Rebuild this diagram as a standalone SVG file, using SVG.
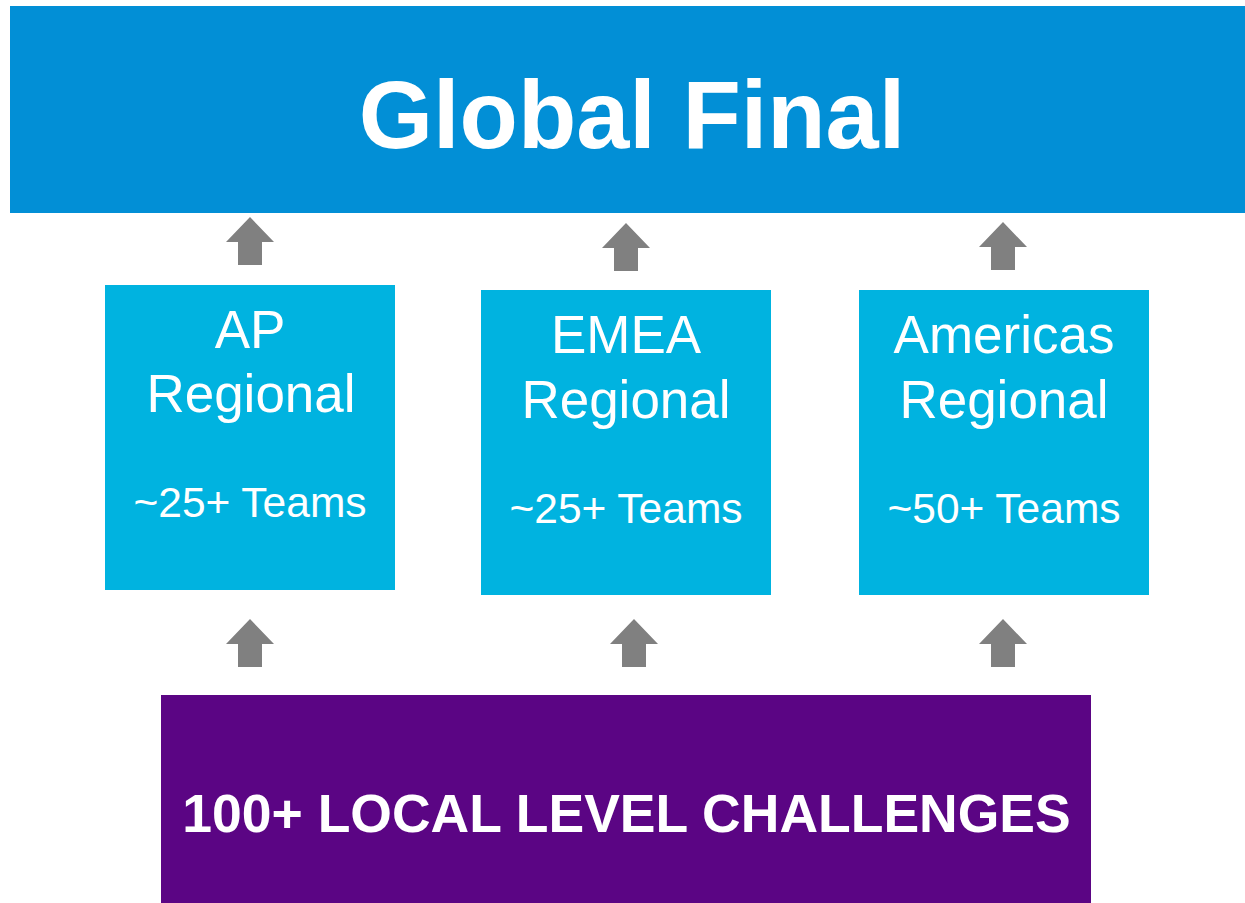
<svg xmlns="http://www.w3.org/2000/svg" width="1245" height="903" viewBox="0 0 1245 903">
<style>
.reg{fill:#00B3E0}
.t{font-family:"Liberation Sans",Arial,sans-serif;fill:#fff;text-anchor:middle}
.b{font-weight:bold}
.arr{fill:#808080}
</style>
<defs>
<path id="up" d="M0,0 L24,25 L12,25 L12,48 L-12,48 L-12,25 L-24,25 Z"/>
</defs>
<rect width="1245" height="903" fill="#fff"/>
<g id="global">
<rect x="10" y="6" width="1235" height="207" fill="#028FD6"/>
<text class="t b" x="632" y="148" font-size="95.5">Global Final</text>
</g>
<g id="ap">
<rect class="reg" x="105" y="285" width="290" height="305"/>
<text class="t" x="250" y="348" font-size="53">AP</text>
<text class="t" x="251" y="412" font-size="53">Regional</text>
<text class="t" x="250" y="517" font-size="42.5">~25+ Teams</text>
</g>
<g id="emea">
<rect class="reg" x="481" y="290" width="290" height="305"/>
<text class="t" x="626" y="353" font-size="53">EMEA</text>
<text class="t" x="626" y="418" font-size="53">Regional</text>
<text class="t" x="626" y="523" font-size="42.5">~25+ Teams</text>
</g>
<g id="americas">
<rect class="reg" x="859" y="290" width="290" height="305"/>
<text class="t" x="1004" y="353" font-size="53">Americas</text>
<text class="t" x="1004" y="418" font-size="53">Regional</text>
<text class="t" x="1004" y="523" font-size="42.5">~50+ Teams</text>
</g>
<g id="local">
<rect x="161" y="695" width="930" height="208" fill="#5B0584"/>
<text class="t b" x="626.5" y="832" font-size="53.5">100+ LOCAL LEVEL CHALLENGES</text>
</g>
<g id="connectors" class="arr">
<use href="#up" x="250" y="217"/>
<use href="#up" x="626" y="223"/>
<use href="#up" x="1003" y="222"/>
<use href="#up" x="250" y="619"/>
<use href="#up" x="634" y="619"/>
<use href="#up" x="1003" y="619"/>
</g>
</svg>
